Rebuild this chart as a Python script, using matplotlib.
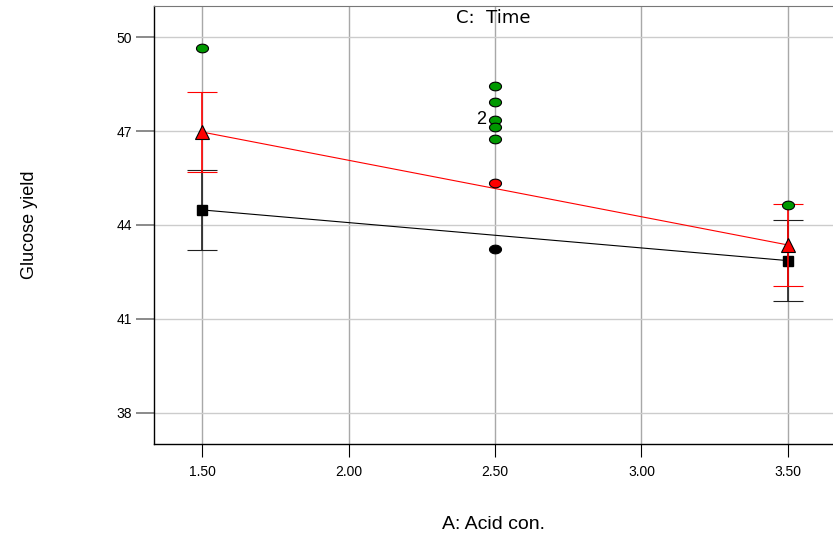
import numpy as np
import matplotlib
matplotlib.use("Agg")
from matplotlib import pyplot as plt
from matplotlib.path import Path

plt.rcParams['font.family'] = ['Liberation Sans', 'DejaVu Sans']

# interaction lines (C: Time at high / low level)
x_levels = [1.5, 3.5]
high_mean = [46.97, 43.36]
high_err = [1.28, 1.30]
low_mean = [44.48, 42.86]
low_err = [1.29, 1.29]

# design points
green_x = [1.5, 2.5, 2.5, 2.5, 2.5, 2.5, 3.5]
green_y = [49.65, 48.44, 47.94, 47.35, 47.14, 46.74, 44.64]
red_x = [2.5]
red_y = [45.34]
black_x = [2.5]
black_y = [43.23]

xticks = [1.5, 2.0, 2.5, 3.0, 3.5]
yticks = [38, 41, 44, 47, 50]

# flat ellipse marker like the original software uses
t = np.linspace(0, 2 * np.pi, 40)
ell = Path(np.c_[np.cos(t), 0.72 * np.sin(t)], closed=True)

fig = plt.figure(figsize=(8.33, 5.44), dpi=100)
ax = fig.add_axes([0.185, 0.184, 0.815, 0.805])

for x in xticks:
    ax.axvline(x, color='#a8a8a8', lw=1, zorder=0)
for y in yticks:
    ax.axhline(y, color='#cccccc', lw=1, zorder=0)

ax.errorbar(x_levels, low_mean, yerr=low_err, color='black', lw=0.8,
            ecolor='#202020', elinewidth=1.2, capsize=10.5, capthick=0.8,
            marker='s', ms=7, mfc='black', mec='black', zorder=3)
ax.errorbar(x_levels, high_mean, yerr=high_err, color='red', lw=0.8,
            ecolor='red', elinewidth=1.2, capsize=10.5, capthick=0.8,
            marker='^', ms=10, mfc='red', mec='black', mew=0.8, zorder=4)

ax.scatter(green_x, green_y, s=75, marker=ell, c='#009900', edgecolors='black', lw=0.8, zorder=5)
ax.scatter(red_x, red_y, s=75, marker=ell, c='red', edgecolors='black', lw=0.8, zorder=5)
ax.scatter(black_x, black_y, s=75, marker=ell, c='black', edgecolors='black', lw=0.8, zorder=5)
ax.text(2.47, 47.38, '2', ha='right', va='center', fontsize=13)

ax.set_xlim(1.336, 3.654)
ax.set_ylim(37, 51)
ax.set_xticks(xticks)
ax.set_xticklabels(['%.2f' % v for v in xticks])
ax.set_yticks(yticks)
ax.tick_params(axis='x', length=9, width=0.8, labelsize=10, pad=6)
ax.tick_params(axis='y', length=13, width=1.2, color='#777777', labelsize=10, pad=3)

ax.spines['right'].set_visible(False)
ax.spines['top'].set_color('#777777')
ax.spines['left'].set_linewidth(1.0)
ax.spines['bottom'].set_linewidth(1.0)

ax.text(0.5, 0.993, 'C:  Time', transform=ax.transAxes, ha='center', va='top',
        fontsize=13, family=['DejaVu Sans'])

fig.text(0.592, 0.035, 'A: Acid con.', ha='center', va='center', fontsize=14)
fig.text(0.036, 0.586, 'Glucose yield', ha='center', va='center', rotation=90,
         fontsize=13, family=['Liberation Sans Narrow', 'Liberation Sans', 'DejaVu Sans'])

fig.savefig('out.png', dpi=100)
